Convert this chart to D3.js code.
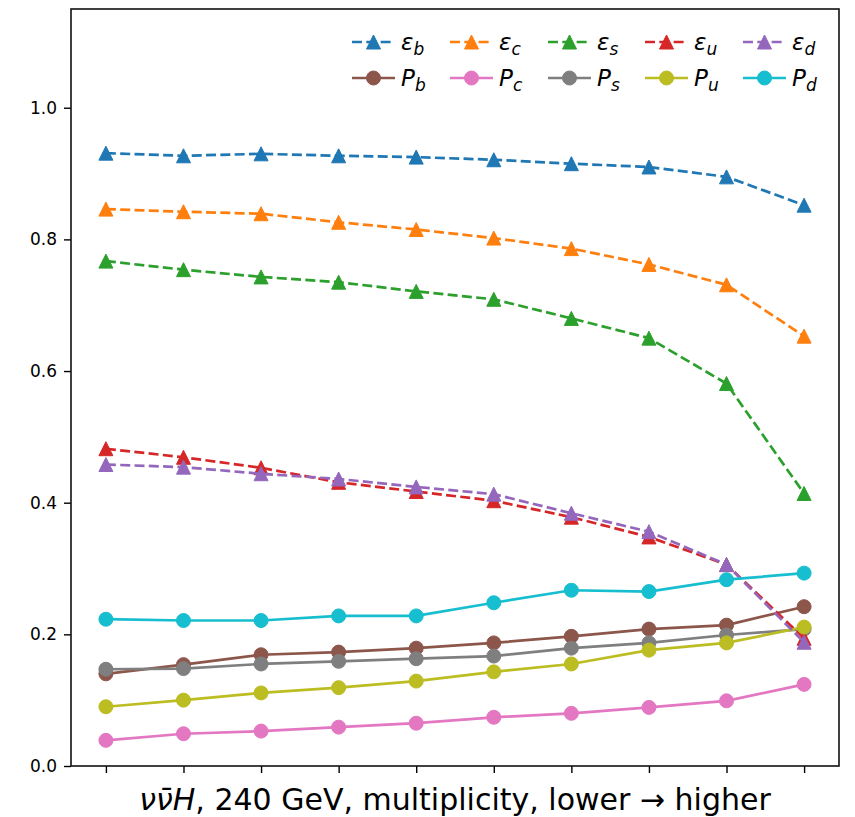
<!DOCTYPE html>
<html>
<head>
<meta charset="utf-8">
<script src="https://cdn.jsdelivr.net/npm/d3@7"></script>
<style>
  html, body { margin: 0; padding: 0; background: #fff; }
  svg { display: block; font-family: "DejaVu Sans", sans-serif; }
</style>
</head>
<body>
<svg id="chart" width="855" height="817"></svg>
<script>
// Multiplicity bins (lower -> higher)
const bins = [0, 1, 2, 3, 4, 5, 6, 7, 8, 9];

// Tagging efficiencies per flavour
const effB = [0.931, 0.927, 0.930, 0.927, 0.925, 0.921, 0.915, 0.910, 0.895, 0.852];
const effC = [0.846, 0.842, 0.839, 0.826, 0.815, 0.802, 0.786, 0.762, 0.731, 0.653];
const effS = [0.767, 0.754, 0.743, 0.735, 0.721, 0.709, 0.680, 0.650, 0.581, 0.414];
const effU = [0.482, 0.469, 0.453, 0.431, 0.417, 0.403, 0.378, 0.348, 0.306, 0.194];
const effD = [0.458, 0.454, 0.444, 0.436, 0.424, 0.413, 0.384, 0.356, 0.306, 0.188];

// Purities per flavour
const purB = [0.140, 0.154, 0.169, 0.173, 0.179, 0.187, 0.197, 0.208, 0.214, 0.242];
const purC = [0.039, 0.049, 0.053, 0.059, 0.065, 0.074, 0.080, 0.089, 0.099, 0.124];
const purS = [0.147, 0.148, 0.155, 0.159, 0.163, 0.167, 0.179, 0.187, 0.199, 0.208];
const purU = [0.090, 0.100, 0.111, 0.119, 0.129, 0.143, 0.155, 0.176, 0.187, 0.211];
const purD = [0.223, 0.221, 0.221, 0.228, 0.228, 0.248, 0.267, 0.265, 0.283, 0.293];

const yTicks = [0.0, 0.2, 0.4, 0.6, 0.8, 1.0];
const xLabelMath = "νν̄H";
const xLabelRest = ", 240 GeV, multiplicity, lower → higher";

// Series in drawing order (efficiency / purity interleaved per flavour)
const series = [
  { sym: "ε", sub: "b", values: effB, color: "#1f77b4", kind: "eff" },
  { sym: "P", sub: "b", values: purB, color: "#8c564b", kind: "pur" },
  { sym: "ε", sub: "c", values: effC, color: "#ff7f0e", kind: "eff" },
  { sym: "P", sub: "c", values: purC, color: "#e377c2", kind: "pur" },
  { sym: "ε", sub: "s", values: effS, color: "#2ca02c", kind: "eff" },
  { sym: "P", sub: "s", values: purS, color: "#7f7f7f", kind: "pur" },
  { sym: "ε", sub: "u", values: effU, color: "#d62728", kind: "eff" },
  { sym: "P", sub: "u", values: purU, color: "#bcbd22", kind: "pur" },
  { sym: "ε", sub: "d", values: effD, color: "#9467bd", kind: "eff" },
  { sym: "P", sub: "d", values: purD, color: "#17becf", kind: "pur" }
];

const box = { left: 71, top: 9, right: 839, bottom: 766 };
const svg = d3.select("#chart");

const x = d3.scaleLinear().domain([-0.45, 9.45]).range([box.left, box.right]);
const y = d3.scaleLinear().domain([0, 1.15]).range([box.bottom, box.top]);

const lw = 2.7;
const dash = `${3.7 * lw},${1.6 * lw}`;
const markerSize = 14;
const triangle = d3.symbol().type({
  draw(ctx, size) {
    const h = Math.sqrt(size) / 2;
    ctx.moveTo(0, -h);
    ctx.lineTo(h, h);
    ctx.lineTo(-h, h);
    ctx.closePath();
  }
}).size(markerSize * markerSize);
const circle = d3.symbol().type(d3.symbolCircle).size(Math.PI * (markerSize / 2) ** 2);

const plot = svg.append("g");
plot.append("defs").append("clipPath").attr("id", "clip")
  .append("rect").attr("x", box.left).attr("y", box.top)
  .attr("width", box.right - box.left).attr("height", box.bottom - box.top);

const line = d3.line().x((d, i) => x(bins[i])).y(d => y(d));

function drawMarker(g, s, px, py) {
  g.append("path")
    .attr("d", s.kind === "eff" ? triangle() : circle())
    .attr("transform", `translate(${px},${py})`)
    .attr("fill", s.color)
    .attr("stroke", s.color)
    .attr("stroke-width", 1);
}

series.forEach(s => {
  const g = plot.append("g").attr("clip-path", "url(#clip)");
  g.append("path")
    .attr("d", line(s.values))
    .attr("fill", "none")
    .attr("stroke", s.color)
    .attr("stroke-width", lw)
    .attr("stroke-dasharray", s.kind === "eff" ? dash : null);
  s.values.forEach((v, i) => drawMarker(g, s, x(bins[i]), y(v)));
});

// Axes
const yAxis = d3.axisLeft(y).tickValues(yTicks).tickFormat(d3.format(".1f")).tickSize(7).tickPadding(7);
const gy = svg.append("g").attr("transform", `translate(${box.left},0)`).call(yAxis);
gy.select(".domain").remove();
gy.selectAll(".tick line").attr("stroke", "#000").attr("stroke-width", 1.4);
gy.selectAll(".tick text").attr("font-size", 17).attr("fill", "#000")
  .attr("font-family", "DejaVu Sans");

const xAxis = d3.axisBottom(x).tickValues(bins).tickFormat("").tickSize(7);
const gx = svg.append("g").attr("transform", `translate(0,${box.bottom})`).call(xAxis);
gx.select(".domain").remove();
gx.selectAll(".tick line").attr("stroke", "#000").attr("stroke-width", 1.4);

// Frame
svg.append("rect")
  .attr("x", box.left).attr("y", box.top)
  .attr("width", box.right - box.left).attr("height", box.bottom - box.top)
  .attr("fill", "none").attr("stroke", "#111").attr("stroke-width", 1.6);

// X label (math part in italic)
const xl = svg.append("text")
  .attr("x", (box.left + box.right) / 2)
  .attr("y", 810)
  .attr("text-anchor", "middle")
  .attr("font-size", 30)
  .attr("fill", "#000");
xl.append("tspan").attr("font-style", "italic").text(xLabelMath);
xl.append("tspan").text(xLabelRest);

// Legend: two rows (efficiencies, purities), five columns
const legend = svg.append("g");
const colX = [352, 450, 548, 645, 743];
const rowY = [42, 78];
series.forEach((s, k) => {
  const col = Math.floor(k / 2), row = k % 2;
  const lx = colX[col], ly = rowY[row];
  const g = legend.append("g");
  g.append("line")
    .attr("x1", lx).attr("x2", lx + 43).attr("y1", ly).attr("y2", ly)
    .attr("stroke", s.color).attr("stroke-width", lw)
    .attr("stroke-dasharray", s.kind === "eff" ? dash : null);
  drawMarker(g, s, lx + 21.5, ly);
  const t = g.append("text")
    .attr("x", lx + 49).attr("y", ly + 8)
    .attr("font-size", 23).attr("font-style", "italic").attr("fill", "#000");
  t.append("tspan").text(s.sym);
  t.append("tspan").attr("font-size", 17).attr("dy", 5).text(s.sub);
});
</script>
</body>
</html>
